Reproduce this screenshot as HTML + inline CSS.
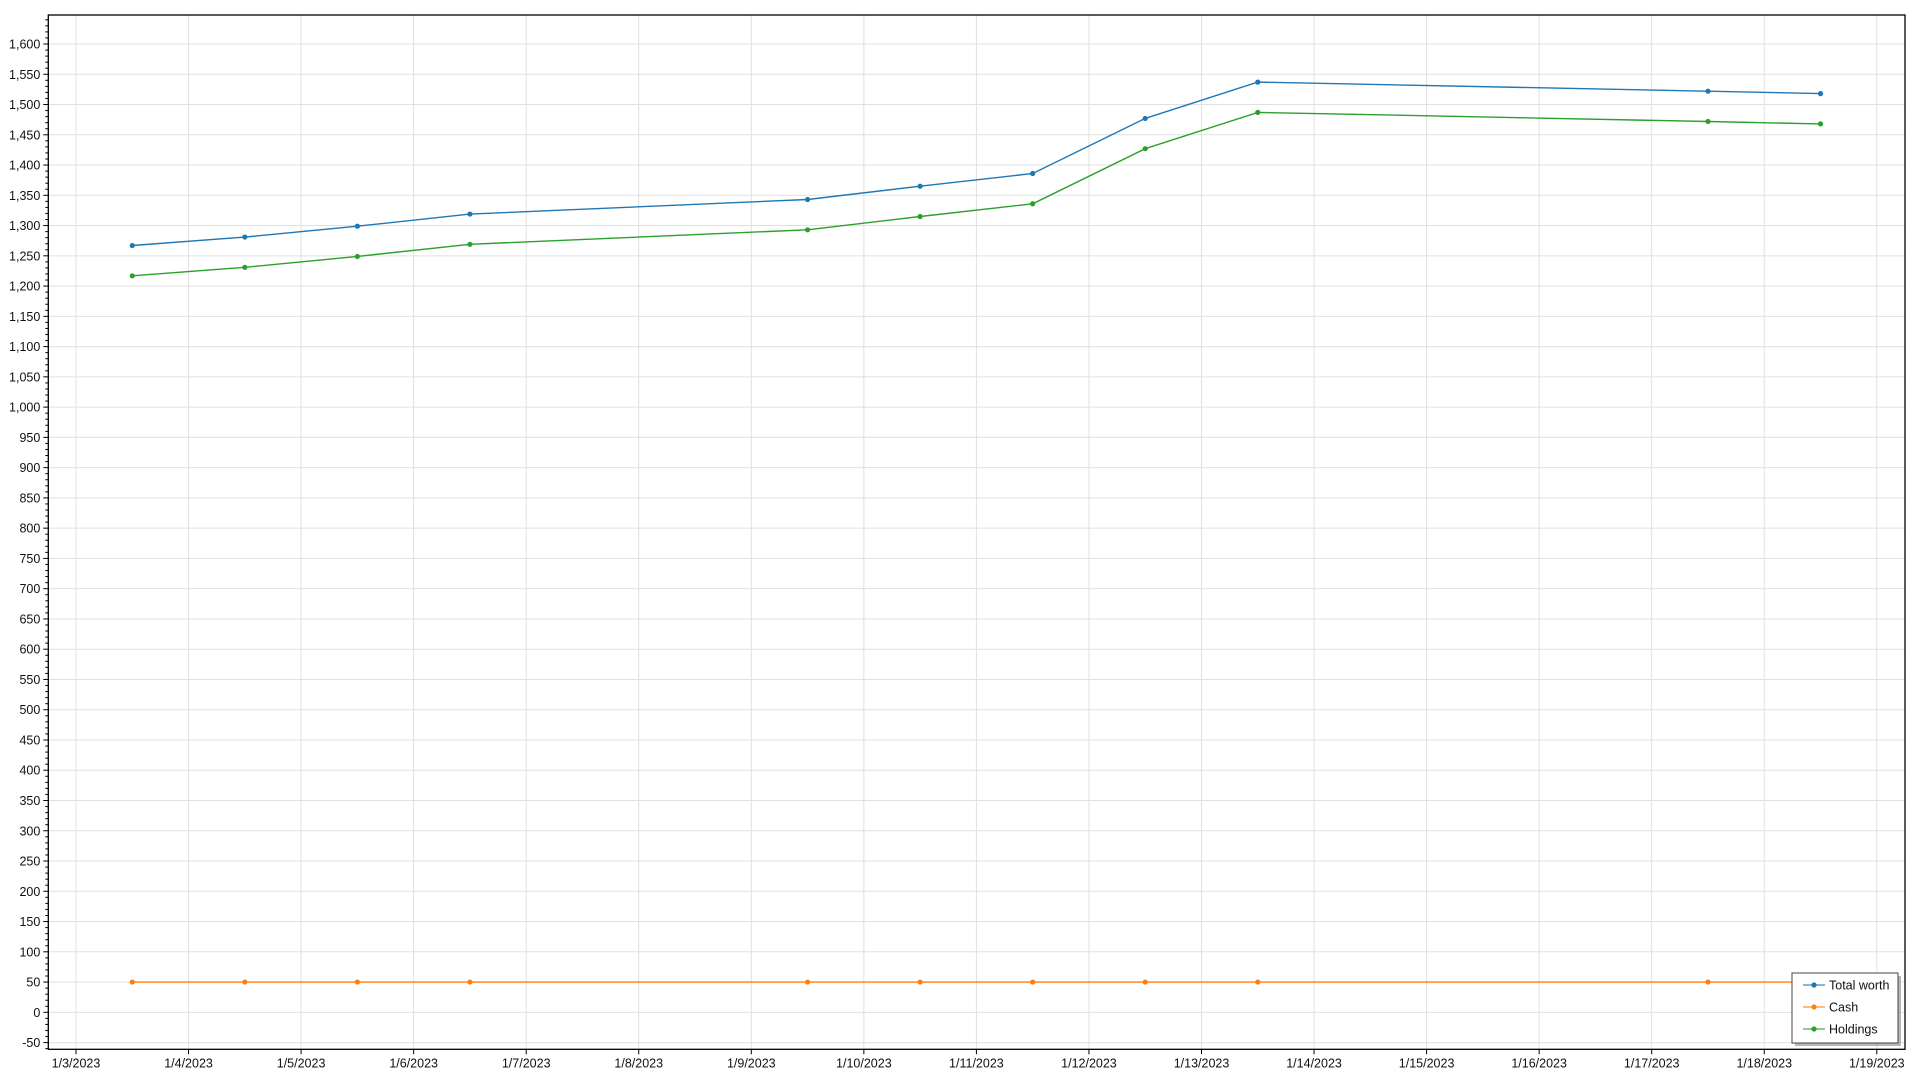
<!DOCTYPE html>
<html><head><meta charset="utf-8"><style>
html,body{margin:0;padding:0;background:#fff;width:1920px;height:1080px;overflow:hidden}
text{font-family:"Liberation Sans",sans-serif;font-size:12.5px;fill:#111}
</style></head><body>
<svg id="s" width="1920" height="1080" xmlns="http://www.w3.org/2000/svg"></svg>
<script>
const s=document.getElementById('s');let h='';
const L=48.3,R=1905,T=15,B=1049.3;
const X=d=>76+(d-3)*112.55, Y=v=>44+(1600-v)*0.6052;
// grid
for(let d=3;d<=19;d++){const x=X(d);h+=`<line x1="${x}" y1="${T}" x2="${x}" y2="${B}" stroke="#e0e0e0" stroke-width="1"/>`;
h+=`<line x1="${x}" y1="${B}" x2="${x}" y2="${B+5}" stroke="#000"/>`;
h+=`<text x="${x}" y="${B+18}" text-anchor="middle">1/${d}/2023</text>`;}
for(let v=-50;v<=1600;v+=50){const y=Y(v);h+=`<line x1="${L}" y1="${y}" x2="${R}" y2="${y}" stroke="#e0e0e0" stroke-width="1"/>`;
h+=`<line x1="${L-5}" y1="${y}" x2="${L}" y2="${y}" stroke="#000"/>`;
h+=`<text x="${L-8}" y="${y+4.5}" text-anchor="end">${v.toLocaleString('en-US')}</text>`;}
for(let v=-60;v<=1650;v+=10){if(v%50==0)continue;const y=Y(v);if(y<T||y>B)continue;h+=`<line x1="${L-3}" y1="${y}" x2="${L}" y2="${y}" stroke="#000"/>`;}
h+=`<rect x="${L}" y="${T}" width="${R-L}" height="${B-T}" fill="none" stroke="#000" stroke-width="1.3"/>`;
const days=[3.5,4.5,5.5,6.5,9.5,10.5,11.5,12.5,13.5,17.5,18.5];
const tot=[1267,1281,1299,1319,1343,1365,1386,1477,1537,1522,1518];
function ser(vals,c){let p=days.map((d,i)=>X(d).toFixed(1)+','+Y(vals[i]).toFixed(1)).join(' ');
h+=`<polyline points="${p}" fill="none" stroke="${c}" stroke-width="1.4"/>`;
days.forEach((d,i)=>h+=`<circle cx="${X(d)}" cy="${Y(vals[i])}" r="2.6" fill="${c}"/>`);}
ser(tot,'#1f77b4');ser(days.map(()=>50),'#ff7f0e');ser(tot.map(v=>v-50),'#2ca02c');
// legend
h+=`<rect x="1795" y="976" width="106" height="70" fill="#888" opacity="0.6"/>`;
h+=`<rect x="1792" y="973" width="106" height="70" fill="#fff" stroke="#444" stroke-width="1"/>`;
[['Total worth','#1f77b4'],['Cash','#ff7f0e'],['Holdings','#2ca02c']].forEach((e,i)=>{const y=985+i*22;
h+=`<line x1="1803" y1="${y}" x2="1825" y2="${y}" stroke="${e[1]}" stroke-width="1.4" opacity="0.7"/><circle cx="1814" cy="${y}" r="2.6" fill="${e[1]}"/>`;
h+=`<text x="1829" y="${y+4.5}">${e[0]}</text>`;});
s.innerHTML=h;
</script>
</body></html>
